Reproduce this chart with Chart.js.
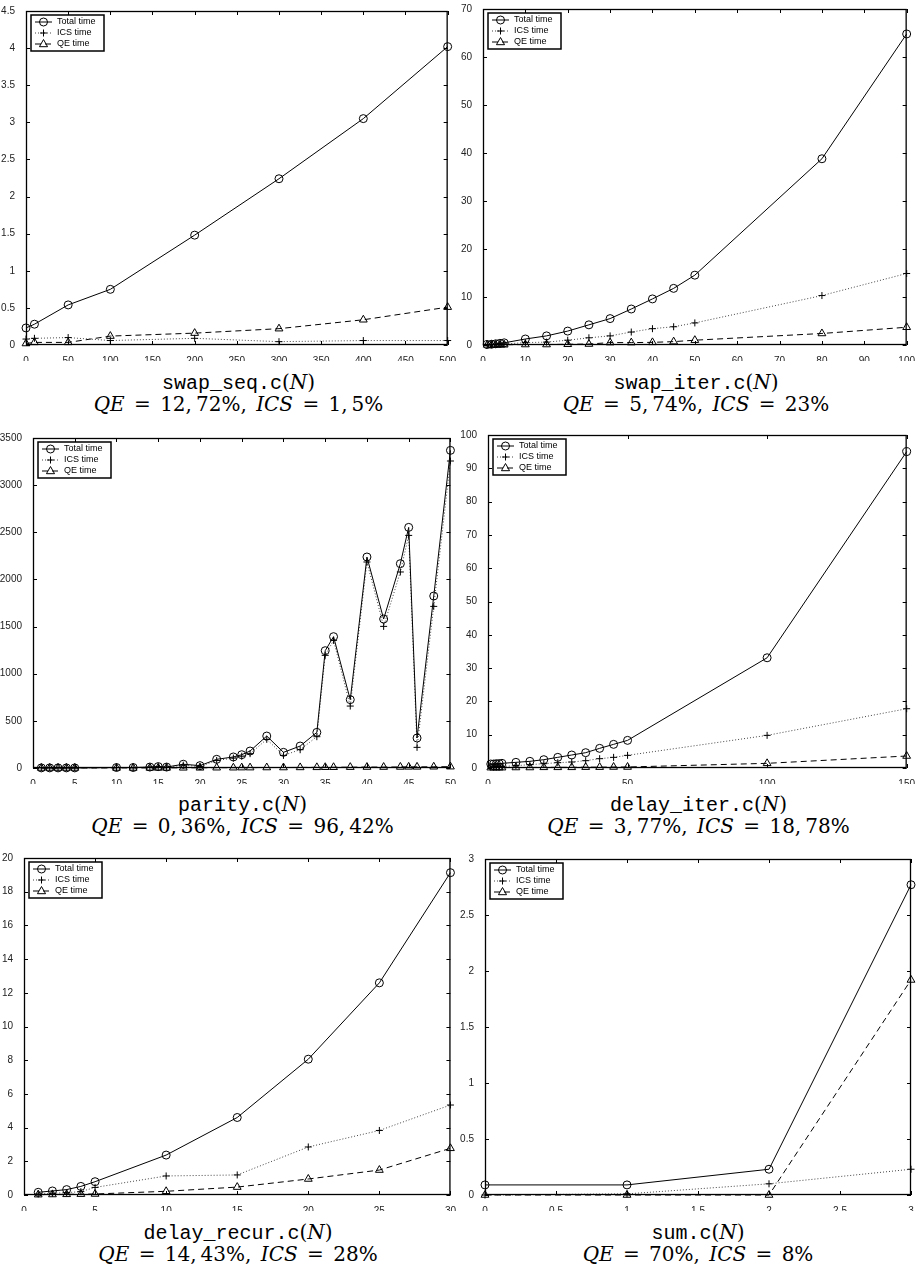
<!DOCTYPE html>
<html>
<head>
<meta charset="utf-8">
<script src="https://cdn.jsdelivr.net/npm/chart.js@4/dist/chart.umd.min.js"></script>
<style>
  body { margin: 0; background: #fff; width: 917px; height: 1277px; position: relative; overflow: hidden; }
  canvas { position: absolute; }
  .cap { position: absolute; width: 440px; text-align: center; color: #000; white-space: nowrap; }
  .l1 { font-family: "Liberation Mono", "DejaVu Sans Mono", monospace; font-size: 20px; }
  .l2 { font-family: "DejaVu Serif", "Liberation Serif", serif; font-size: 20px; word-spacing: 3px; }
  .m { font-family: "DejaVu Serif", "Liberation Serif", serif; font-size: 20px; }
  i { font-style: italic; }
</style>
</head>
<body>
<script>
// swap_seq.c
const swapSeqN = [0, 10, 50, 100, 200, 300, 400, 500];
const swapSeqTotal = [0.23, 0.28, 0.54, 0.75, 1.48, 2.24, 3.05, 4.02];
const swapSeqIcs = [0.08, 0.09, 0.1, 0.06, 0.09, 0.045, 0.06, 0.06];
const swapSeqQe = [0.02, 0.035, 0.035, 0.12, 0.16, 0.22, 0.34, 0.51];

// swap_iter.c
const swapIterN = [1, 2, 3, 4, 5, 10, 15, 20, 25, 30, 35, 40, 45, 50, 80, 100];
const swapIterTotal = [0.1, 0.15, 0.25, 0.35, 0.45, 1.25, 1.9, 2.9, 4.2, 5.5, 7.5, 9.6, 11.8, 14.55, 38.8, 64.8];
const swapIterIcs = [0.05, 0.08, 0.12, 0.16, 0.2, 0.5, 0.6, 1.0, 1.5, 1.9, 2.7, 3.4, 3.8, 4.6, 10.3, 14.9];
const swapIterQe = [0.02, 0.02, 0.03, 0.04, 0.05, 0.1, 0.1, 0.15, 0.2, 0.5, 0.5, 0.55, 0.7, 1.0, 2.4, 3.7];

// parity.c
const parityN = [1, 2, 3, 4, 5, 10, 12, 14, 15, 16, 18, 20, 22, 24, 25, 26, 28, 30, 32, 34, 35, 36, 38, 40, 42, 44, 45, 46, 48, 50];
const parityTotal = [1, 1, 1, 1, 1, 5, 5, 10, 15, 10, 40, 25, 92, 117, 141, 180, 339, 166, 233, 378, 1244, 1393, 725, 2238, 1580, 2167, 2552, 318, 1824, 3369];
const parityIcs = [1, 1, 1, 1, 1, 4, 4, 8, 12, 8, 30, 15, 80, 105, 125, 152, 304, 134, 194, 332, 1195, 1354, 657, 2185, 1502, 2079, 2467, 219, 1714, 3256];
const parityQe = [0.2, 0.2, 0.2, 0.2, 0.2, 0.5, 0.5, 1, 1, 1, 2, 2, 3, 3, 4, 4, 5, 5, 6, 7, 8, 8, 9, 10, 10, 11, 12, 12, 13, 14];

// delay_iter.c
const delayIterN = [1, 2, 3, 4, 5, 10, 15, 20, 25, 30, 35, 40, 45, 50, 100, 150];
const delayIterTotal = [1.2, 1.2, 1.3, 1.3, 1.4, 1.7, 2.0, 2.5, 3.2, 3.9, 4.6, 5.9, 7.1, 8.3, 33.1, 95];
const delayIterIcs = [0.3, 0.3, 0.35, 0.4, 0.45, 0.7, 1.0, 1.3, 1.6, 1.8, 2.2, 2.8, 3.2, 3.8, 9.8, 17.8];
const delayIterQe = [0.1, 0.1, 0.1, 0.1, 0.1, 0.15, 0.15, 0.2, 0.2, 0.2, 0.25, 0.25, 0.3, 0.3, 1.4, 3.6];

// delay_recur.c
const delayRecurN = [1, 2, 3, 4, 5, 10, 15, 20, 25, 30];
const delayRecurTotal = [0.16, 0.24, 0.32, 0.51, 0.79, 2.37, 4.6, 8.06, 12.59, 19.13];
const delayRecurIcs = [0.06, 0.1, 0.14, 0.2, 0.45, 1.13, 1.19, 2.85, 3.83, 5.34];
const delayRecurQe = [0.02, 0.03, 0.04, 0.05, 0.06, 0.22, 0.47, 0.95, 1.48, 2.77];

// sum.c
const sumN = [0, 1, 2, 3];
const sumTotal = [0.09, 0.09, 0.23, 2.77];
const sumIcs = [0, 0.01, 0.1, 0.23];
const sumQe = [0, 0, 0, 1.92];

const seriesNames = ['Total time', 'ICS time', 'QE time'];

// axis ranges: [xMax, xStep, yMax, yStep]
const axisRanges = [
    [500, 50, 4.5, 0.5],
    [100, 10, 70, 10],
    [50, 5, 3500, 500],
    [150, 50, 100, 10],
    [30, 5, 20, 2],
    [3, 0.5, 3, 0.5]
];

const fileNames = ['swap_seq.c', 'swap_iter.c', 'parity.c', 'delay_iter.c', 'delay_recur.c', 'sum.c'];
const qePct = ['12,\u200972%', '5,\u200974%', '0,\u200936%', '3,\u200977%', '14,\u200943%', '70%'];
const icsPct = ['1,\u20095%', '23%', '96,\u200942%', '18,\u200978%', '28%', '8%'];

const panelData = [
    [swapSeqN, swapSeqTotal, swapSeqIcs, swapSeqQe],
    [swapIterN, swapIterTotal, swapIterIcs, swapIterQe],
    [parityN, parityTotal, parityIcs, parityQe],
    [delayIterN, delayIterTotal, delayIterIcs, delayIterQe],
    [delayRecurN, delayRecurTotal, delayRecurIcs, delayRecurQe],
    [sumN, sumTotal, sumIcs, sumQe]
];

// layout: plot rect [l, t, r, b], canvas [x, y, w], caption line centres
const layout = [
    { plot: [26, 11, 451, 345], canvas: [0, 0, 458], cap: 383 },
    { plot: [483, 8, 909, 345], canvas: [458, 0, 459], cap: 383 },
    { plot: [33, 438, 452, 768], canvas: [0, 420, 458], cap: 805 },
    { plot: [488, 435, 909, 768], canvas: [458, 420, 459], cap: 805 },
    { plot: [24, 858, 452, 1195], canvas: [0, 840, 458], cap: 1233 },
    { plot: [485, 859, 911, 1195], canvas: [458, 840, 459], cap: 1233 }
];

const styles = [
    { pointStyle: 'circle', radius: 4, dash: [], color: '#000' },
    { pointStyle: 'cross', radius: 3.5, dash: [1, 2], color: '#444' },
    { pointStyle: 'triangle', radius: 4.5, dash: [6, 4], color: '#000' }
];

function drawMarker(ctx, style, x, y) {
    ctx.save();
    ctx.setLineDash([]);
    ctx.strokeStyle = '#000';
    ctx.lineWidth = 1;
    ctx.beginPath();
    const r = style.radius;
    if (style.pointStyle === 'circle') {
        ctx.arc(x, y, r, 0, Math.PI * 2);
    } else if (style.pointStyle === 'cross') {
        ctx.moveTo(x - r, y); ctx.lineTo(x + r, y);
        ctx.moveTo(x, y - r); ctx.lineTo(x, y + r);
    } else {
        ctx.moveTo(x, y - r);
        ctx.lineTo(x + r * 0.9, y + r * 0.6);
        ctx.lineTo(x - r * 0.9, y + r * 0.6);
        ctx.closePath();
    }
    ctx.stroke();
    ctx.restore();
}

// matlab-like box: frame, inward ticks on all four sides, legend in the corner
const matlabBox = {
    id: 'matlabBox',
    afterDraw(chart) {
        const ctx = chart.ctx;
        const a = chart.chartArea;
        ctx.save();
        ctx.strokeStyle = '#000';
        ctx.lineWidth = 1.3;
        ctx.setLineDash([]);
        ctx.strokeRect(a.left + 0.5, a.top + 0.5, a.right - a.left - 1, a.bottom - a.top - 1);
        const tl = 4;
        ctx.lineWidth = 1;
        ctx.beginPath();
        chart.scales.x.ticks.forEach(t => {
            const px = Math.round(chart.scales.x.getPixelForValue(t.value)) + 0.5;
            ctx.moveTo(px, a.bottom); ctx.lineTo(px, a.bottom - tl);
            ctx.moveTo(px, a.top); ctx.lineTo(px, a.top + tl);
        });
        chart.scales.y.ticks.forEach(t => {
            const py = Math.round(chart.scales.y.getPixelForValue(t.value)) + 0.5;
            ctx.moveTo(a.left, py); ctx.lineTo(a.left + tl, py);
            ctx.moveTo(a.right, py); ctx.lineTo(a.right - tl, py);
        });
        ctx.stroke();

        // legend
        const bx = a.left + 5, by = a.top + 4, bw = 73, bh = 36;
        ctx.fillStyle = '#fff';
        ctx.fillRect(bx, by, bw, bh);
        ctx.lineWidth = 1.5;
        ctx.strokeRect(bx, by, bw, bh);
        ctx.font = '9px "Liberation Sans", Arial, sans-serif';
        ctx.textBaseline = 'middle';
        ctx.fillStyle = '#000';
        seriesNames.forEach((name, i) => {
            const s = styles[i];
            const ry = by + 7 + i * 11;
            ctx.lineWidth = 1;
            ctx.strokeStyle = s.color;
            ctx.setLineDash(s.dash);
            ctx.beginPath();
            ctx.moveTo(bx + 4, ry); ctx.lineTo(bx + 21, ry);
            ctx.stroke();
            drawMarker(ctx, s, bx + 12.5, ry);
            ctx.fillText(name, bx + 26, ry);
        });
        ctx.restore();
    }
};

const tickFont = { family: '"Liberation Sans", Arial, sans-serif', size: 10 };

panelData.forEach((pd, idx) => {
    const lay = layout[idx];
    const [l, t, r, b] = lay.plot;
    const [cx, cy, cw] = lay.canvas;
    const ch = b - cy + 16;
    const [xMax, xStep, yMax, yStep] = axisRanges[idx];

    const canvas = document.createElement('canvas');
    canvas.width = cw;
    canvas.height = ch;
    canvas.style.left = cx + 'px';
    canvas.style.top = cy + 'px';
    canvas.style.width = cw + 'px';
    canvas.style.height = ch + 'px';
    document.body.appendChild(canvas);

    const datasets = styles.map((s, i) => ({
        label: seriesNames[i],
        data: pd[0].map((n, k) => ({ x: n, y: pd[i + 1][k] })),
        borderColor: s.color,
        borderWidth: 1,
        borderDash: s.dash,
        pointStyle: s.pointStyle,
        pointRadius: s.radius,
        pointBorderColor: '#000',
        pointBackgroundColor: 'rgba(0,0,0,0)',
        pointBorderWidth: 1,
        tension: 0,
        clip: false
    }));

    new Chart(canvas.getContext('2d'), {
        type: 'line',
        data: { datasets: datasets },
        options: {
            responsive: false,
            animation: false,
            devicePixelRatio: 1,
            layout: { padding: { left: 0, top: t - cy, right: cx + cw - r, bottom: 0 } },
            plugins: { legend: { display: false }, tooltip: { enabled: false } },
            scales: {
                x: {
                    type: 'linear', min: 0, max: xMax,
                    ticks: { stepSize: xStep, font: tickFont, color: '#222', padding: 2, maxRotation: 0, autoSkip: false,
                        callback: v => String(Math.round(v * 100) / 100) },
                    grid: { display: false },
                    border: { display: false },
                    afterFit: s => { s.height = 16; }
                },
                y: {
                    type: 'linear', min: 0, max: yMax,
                    ticks: { stepSize: yStep, font: tickFont, color: '#222', padding: 3, autoSkip: false,
                        callback: v => String(Math.round(v * 100) / 100) },
                    grid: { display: false },
                    border: { display: false },
                    afterFit: s => { s.width = l - cx; }
                }
            }
        },
        plugins: [matlabBox]
    });

    const midX = (l + r) / 2;
    const c1 = document.createElement('div');
    c1.className = 'cap';
    c1.style.left = (midX - 220) + 'px';
    c1.style.top = (lay.cap - 13) + 'px';
    c1.innerHTML = '<span class="l1">' + fileNames[idx] + '</span><span class="m">(<i>N</i>)</span>';
    document.body.appendChild(c1);

    const c2 = document.createElement('div');
    c2.className = 'cap l2';
    c2.style.left = (midX - 220) + 'px';
    c2.style.top = (lay.cap + 9) + 'px';
    c2.innerHTML = '<i>QE</i> = ' + qePct[idx] + ', <i>ICS</i> = ' + icsPct[idx];
    document.body.appendChild(c2);
});
</script>
</body>
</html>
